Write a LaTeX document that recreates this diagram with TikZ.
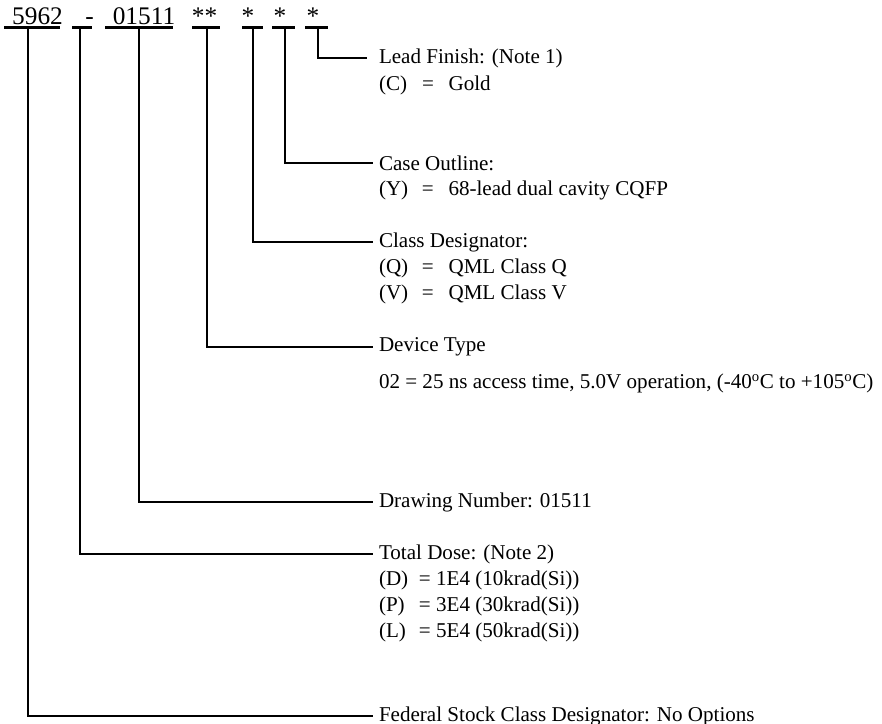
\documentclass[tikz,border=0pt]{standalone}
\usepackage{fontspec}
\setmainfont{Liberation Serif}
\newcommand{\optrow}[2]{\makebox[32.25pt][l]{#1}=\hspace{11pt}#2}
\newcommand{\doserow}[2]{\makebox[30pt][l]{#1}= #2}
\tikzset{every picture/.style={line width=0.75pt}}
\tikzset{
  partno/.style={anchor=base, inner sep=0pt, font=\fontsize{19}{21}\selectfont},
  legend/.style={anchor=west, inner xsep=4.5pt, inner ysep=1pt, font=\fontsize{15.8}{19}\selectfont},
  barline/.style={line width=2pt},
  leader/.style={line width=2pt},
}

\begin{document}
\begin{tikzpicture}[x=0.75pt,y=0.75pt,yscale=-1,xscale=1]
\useasboundingbox (0,0) rectangle (882,724);

% Part Number
\node[partno] (pfsc) at (37.5,25) {5962};
\node[partno] (pdash) at (89.5,25) {-};
\node[partno] (pdwg) at (144,25) {01511};
\node[partno] (pdev) at (204.5,25) {**};
\node[partno] (pcls) at (248,25) {*};
\node[partno] (pcase) at (280,25) {*};
\node[partno] (plead) at (313,25) {*};

% Underlines
\foreach \xa/\xb/\xv/\nm in {4/60/28/fsc, 72/92/80/dash, 105/173/139/dwg, 192/220/207/dev, 242/263/253/cls, 272/295/285/case, 305/328/318/lead}{
  \draw[barline] (\xa,27.5) -- (\xb,27.5);
  \coordinate (b\nm) at (\xv,27.5);
}

% Text Node
\node[legend] (tlead) at (372.5,58) {Lead Finish: (Note 1)};
\node[legend] (tlead1) at (372.5,85) {\optrow{(C)}{Gold}};
% Text Node
\node[legend] (tcase) at (372.5,163) {Case Outline:};
\node[legend] (tcase1) at (372.5,190) {\optrow{(Y)}{68-lead dual cavity CQFP}};
% Text Node
\node[legend] (tcls) at (372.5,242) {Class Designator:};
\node[legend] (tcls1) at (372.5,268) {\optrow{(Q)}{QML Class Q}};
\node[legend] (tcls2) at (372.5,294) {\optrow{(V)}{QML Class V}};
% Text Node
\node[legend] (tdev) at (372.5,347) {Device Type};
\node[legend] (tdev1) at (372.5,383) {02 = 25 ns access time, 5.0V operation, (-40\textsuperscript{o}C to +105\textsuperscript{o}C)};
% Text Node
\node[legend] (tdwg) at (372.5,502) {Drawing Number: 01511};
% Text Node
\node[legend] (tdash) at (372.5,554) {Total Dose: (Note 2)};
\node[legend] (tdash1) at (372.5,580) {\doserow{(D)}{1E4 (10krad(Si))}};
\node[legend] (tdash2) at (372.5,606) {\doserow{(P)}{3E4 (30krad(Si))}};
\node[legend] (tdash3) at (372.5,632) {\doserow{(L)}{5E4 (50krad(Si))}};
% Text Node
\node[legend] (tfsc) at (372.5,716) {Federal Stock Class Designator: No Options};

% Connection
\draw[leader, shorten >=4.5pt] (blead) |- (tlead.west);
\draw[leader] (bcase) |- (tcase.west);
\draw[leader] (bcls) |- (tcls.west);
\draw[leader] (bdev) |- (tdev.west);
\draw[leader] (bdwg) |- (tdwg.west);
\draw[leader] (bdash) |- (tdash.west);
\draw[leader] (bfsc) |- (tfsc.west);

\end{tikzpicture}
\end{document}
